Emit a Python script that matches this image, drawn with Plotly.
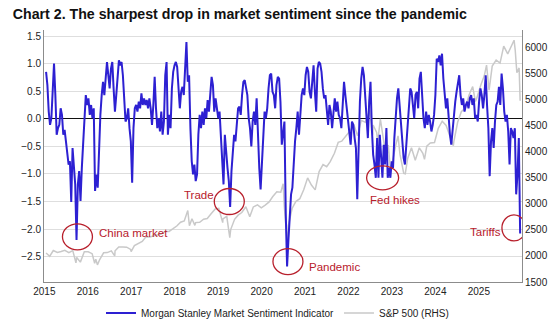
import numpy as np
import pandas as pd
import plotly.graph_objects as go

# ---------------- data ----------------
sent_start = "2015-01-01"
sent_end = "2025-04-08"
sentiment = [
    0.85,
    0.61, 0.13, -0.11, 0.01, 0.55, 1.00, 0.43, -0.29, -0.17, -0.11,
    0.19, 0.07, -0.29, -0.20, -0.41, -0.65, -0.83, -0.77, -1.51, -0.53,
    -0.83, -1.19, -2.20, -1.19, -0.95, -1.49, -0.89, -0.35, 0.01, 0.43,
    0.25, 0.37, 0.07, 0.25, 0.01, 0.19, -1.31, -1.01, -1.25, -0.35,
    0.07, 0.43, 0.67, 0.43, 0.73, 1.03, 0.79, 0.55, 0.91, 1.03,
    0.55, 0.13, 0.43, 0.85, 1.06, 0.97, 1.03, 0.79, 0.43, -0.05,
    0.01, 0.19, -0.17, -0.41, -1.16, -0.17, 0.19, 0.25, 0.13, 0.31,
    0.19, 0.46, 0.25, 0.37, 0.25, 0.34, 0.19, 0.37, 0.19, -0.11,
    0.25, 0.76, 0.19, -0.17, 0.01, -0.23, 0.13, -0.29, -0.05, 0.79,
    1.03, -0.29, 0.07, -0.17, 0.55, 0.85, 0.97, 1.03, 0.94, 0.43,
    0.19, 0.49, 0.58, 0.43, 0.91, 1.39, 0.67, 0.79, -0.17, -0.77,
    -1.01, -0.83, -1.13, -1.01, -0.29, 0.07, -0.17, 0.13, -0.11, 0.19,
    0.01, 0.34, 0.13, 0.49, 0.76, 0.61, 0.13, 0.37, 0.19, 0.01,
    0.13, -0.29, -0.65, -1.19, -0.29, -0.65, -0.89, -1.13, -1.60, -0.95,
    -0.59, -0.29, -0.41, -0.05, 0.19, 0.22, 0.07, 0.43, 0.67, 0.70,
    0.55, 0.43, 0.01, -0.17, -0.50, -0.05, 0.13, -0.11, 0.37, -0.47,
    -0.89, -1.28, -0.77, -0.17, 0.13, 0.01, 0.19, 0.55, 0.79, 0.82,
    0.49, 0.43, 0.19, 0.61, 0.76, 0.73, 0.31, -0.47, -0.29, -0.05,
    -1.72, -2.68, -2.20, -1.72, -1.37, -1.25, -0.77, -0.41, -0.17, 0.13,
    -0.29, 0.19, 0.43, 0.55, 0.43, 0.79, 0.94, 0.85, 0.49, 0.37,
    0.73, 0.97, 0.49, 0.13, 0.91, 1.03, 1.00, 0.85, 0.55, 0.37,
    0.43, 0.19, -0.11, 0.25, 0.13, -0.17, 0.19, 0.37, 0.13, 0.31,
    0.07, 0.01, -0.17, 0.31, 0.67, 0.43, 0.19, -0.05, -0.17, -0.47,
    -0.05, -0.11, -0.35, -0.53, -1.46, -0.47, 0.31, 0.73, 0.94, 0.79,
    0.43, -0.05, -0.35, 0.31, 0.67, -0.17, -0.65, -0.83, -1.07, -0.35,
    -1.07, -0.29, -0.77, -1.07, -0.47, -0.83, -0.17, -1.07, -0.89, -1.07,
    -0.77, -0.89, -0.35, 0.07, 0.37, 0.55, 0.25, -0.17, -0.47, -0.71,
    -0.83, -0.47, -0.17, 0.19, 0.55, 0.49, 0.19, 0.01, 0.43, 0.49,
    0.19, 0.73, 0.85, 0.43, 0.01, -0.17, 0.13, -0.11, 0.07, -0.05,
    -0.23, -0.11, 0.07, 0.43, 1.09, 1.03, 1.15, 0.97, 1.18, 0.73,
    0.43, 0.19, 0.37, -0.05, -0.29, -0.47, -0.17, 0.01, 0.31, 0.49,
    0.61, 0.79, 0.43, 0.25, 0.37, 0.13, 0.25, 0.31, 0.19, 0.37,
    0.43, 0.25, 0.37, 0.01, 0.07, -0.05, 0.31, 0.55, 0.43, 0.19,
    0.43, 0.79, 0.25, -0.17, -1.04, -0.41, -0.17, -0.53, -0.05, 0.25,
    0.31, 0.58, 0.25, 0.82, 0.55, 0.13, -0.05, 0.07, -0.23, -0.83,
    -0.17, -0.23, -0.35, -0.17, -1.37, -1.01, -0.35, -2.08,
]

sp_dates = [
    "2015-01-01", "2015-01-30", "2015-02-27", "2015-03-31", "2015-04-30", "2015-05-29",
    "2015-06-30", "2015-07-31", "2015-08-25", "2015-08-31", "2015-09-29", "2015-10-30",
    "2015-11-30", "2015-12-31", "2016-01-20", "2016-01-29", "2016-02-11", "2016-02-29",
    "2016-03-31", "2016-04-29", "2016-05-31", "2016-06-27", "2016-06-30", "2016-07-29",
    "2016-08-31", "2016-09-30", "2016-10-31", "2016-11-04", "2016-11-30", "2016-12-30",
    "2017-01-31", "2017-02-28", "2017-03-31", "2017-04-28", "2017-05-31", "2017-06-30",
    "2017-07-31", "2017-08-31", "2017-09-29", "2017-10-31", "2017-11-30", "2017-12-29",
    "2018-01-26", "2018-02-08", "2018-02-28", "2018-03-23", "2018-03-29", "2018-04-30",
    "2018-05-31", "2018-06-29", "2018-07-31", "2018-08-31", "2018-09-28", "2018-10-29",
    "2018-10-31", "2018-11-30", "2018-12-24", "2018-12-31", "2019-01-31", "2019-02-28",
    "2019-03-29", "2019-04-30", "2019-05-31", "2019-06-28", "2019-07-31", "2019-08-30",
    "2019-09-30", "2019-10-31", "2019-11-29", "2019-12-31", "2020-01-31", "2020-02-19",
    "2020-02-28", "2020-03-23", "2020-03-31", "2020-04-30", "2020-05-29", "2020-06-30",
    "2020-07-31", "2020-08-31", "2020-09-30", "2020-10-30", "2020-11-30", "2020-12-31",
    "2021-01-29", "2021-02-26", "2021-03-31", "2021-04-30", "2021-05-28", "2021-06-30",
    "2021-07-30", "2021-08-31", "2021-09-30", "2021-10-29", "2021-11-30", "2021-12-31",
    "2022-01-03", "2022-01-27", "2022-01-31", "2022-02-28", "2022-03-08", "2022-03-29",
    "2022-04-29", "2022-05-20", "2022-05-31", "2022-06-16", "2022-06-30", "2022-07-29",
    "2022-08-16", "2022-08-31", "2022-09-30", "2022-10-12", "2022-10-31", "2022-11-30",
    "2022-12-30", "2023-01-31", "2023-02-28", "2023-03-13", "2023-03-31", "2023-04-28",
    "2023-05-31", "2023-06-30", "2023-07-31", "2023-08-31", "2023-09-29", "2023-10-27",
    "2023-10-31", "2023-11-30", "2023-12-29", "2024-01-31", "2024-02-29", "2024-03-28",
    "2024-04-19", "2024-04-30", "2024-05-31", "2024-06-28", "2024-07-16", "2024-08-05",
    "2024-08-30", "2024-09-30", "2024-10-31", "2024-11-29", "2024-12-31", "2025-01-31",
    "2025-02-19", "2025-02-28", "2025-03-13", "2025-03-31", "2025-04-08",
]
sp500 = [
    2058, 1995, 2105, 2068, 2086, 2107,
    2063, 2104, 1868, 1972, 1882, 2079,
    2080, 2044, 1859, 1940, 1829, 1932,
    2060, 2065, 2097, 2001, 2099, 2174,
    2171, 2168, 2126, 2085, 2199, 2239,
    2279, 2364, 2363, 2384, 2412, 2423,
    2470, 2472, 2519, 2575, 2648, 2674,
    2873, 2581, 2714, 2588, 2641, 2648,
    2705, 2718, 2816, 2902, 2914, 2641,
    2712, 2760, 2351, 2507, 2704, 2784,
    2834, 2946, 2752, 2942, 2980, 2926,
    2977, 3038, 3141, 3231, 3226, 3386,
    2954, 2237, 2585, 2912, 3044, 3100,
    3271, 3500, 3363, 3270, 3622, 3756,
    3714, 3811, 3973, 4181, 4204, 4298,
    4395, 4523, 4308, 4605, 4567, 4766,
    4797, 4327, 4516, 4374, 4171, 4632,
    4132, 3901, 4132, 3667, 3785, 4130,
    4305, 3955, 3586, 3577, 3872, 4080,
    3840, 4077, 3970, 3855, 4109, 4169,
    4180, 4450, 4589, 4508, 4288, 4117,
    4194, 4568, 4770, 4846, 5096, 5254,
    4967, 5036, 5278, 5460, 5667, 5186,
    5648, 5762, 5705, 6032, 5882, 6041,
    6144, 5955, 5522, 5612, 4983,
]

year_labels = ["2015", "2016", "2017", "2018", "2019", "2020",
               "2021", "2022", "2023", "2024", "2025"]

events = ["China market", "Trade", "Pandemic", "Fed hikes", "Tariffs"]
event_dates = ["2015-09-06", "2018-12-20", "2020-03-28", "2022-04-16", "2025-02-18"]
event_levels = [-2.14, -1.50, -2.59, -1.07, -1.98]
label_dates = ["2016-02-10", "2017-12-10", "2020-08-28", "2021-12-20", "2024-02-20"]
label_levels = [-2.07, -1.39, -2.69, -1.48, -2.06]
circle_rx = [15, 15, 15, 16, 12]
circle_ry = [13, 13, 13, 12, 13]


def to_year(d):
    d = pd.Timestamp(d)
    start = pd.Timestamp(year=d.year, month=1, day=1)
    end = pd.Timestamp(year=d.year + 1, month=1, day=1)
    return d.year + (d - start) / (end - start)


sent_x = np.linspace(to_year(sent_start), to_year(sent_end), len(sentiment))
sp_x = [to_year(d) for d in sp_dates]
tick_pos = [2014.962 + 0.9409 * i for i in range(len(year_labels))]

BLUE = "#2d20d2"
RED = "#b8202c"
FONT = "Liberation Sans, Arial, sans-serif"

fig = go.Figure()
fig.add_trace(go.Scatter(
    x=sp_x, y=sp500, mode="lines", name="S&P 500 (RHS)", yaxis="y",
    line=dict(color="#c9c9c9", width=1.5), legendrank=2,
))
fig.add_trace(go.Scatter(
    x=sent_x, y=sentiment, mode="lines", name="Morgan Stanley Market Sentiment Indicator",
    yaxis="y2", line=dict(color=BLUE, width=2), legendrank=1,
))

for name, d, lv, ld, ll, rx, ry in zip(events, event_dates, event_levels,
                                       label_dates, label_levels, circle_rx, circle_ry):
    fig.add_shape(type="circle", xref="x", yref="y2",
                  xsizemode="pixel", ysizemode="pixel",
                  xanchor=to_year(d), yanchor=lv,
                  x0=-rx, x1=rx, y0=-ry, y1=ry,
                  line=dict(color=RED, width=1.3))
    fig.add_annotation(x=to_year(ld), y=ll, xref="x", yref="y2", text=name,
                       showarrow=False, xanchor="left", yanchor="middle",
                       font=dict(family=FONT, size=11.5, color=RED))

fig.update_layout(
    width=555, height=322,
    margin=dict(l=44, r=33, t=30, b=40, autoexpand=False),
    paper_bgcolor="white", plot_bgcolor="white",
    font=dict(family=FONT, size=10, color="#222"),
    title=dict(text="<b>Chart 2. The sharpest drop in market sentiment since the pandemic</b>",
               x=0.023, xref="container", xanchor="left",
               y=0.955, yref="container", yanchor="middle",
               font=dict(family=FONT, size=14.2, color="#111")),
    showlegend=True,
    legend=dict(orientation="h", x=0.5, xref="container", xanchor="center",
                y=0.028, yref="container", yanchor="middle",
                font=dict(family=FONT, size=10, color="#222"),
                bgcolor="rgba(0,0,0,0)", traceorder="normal"),
    xaxis=dict(range=[2014.955, 2025.306], tickvals=tick_pos, ticktext=year_labels,
               showgrid=False, showline=True, linecolor="#8c8c8c", linewidth=1,
               ticks="", zeroline=False, tickfont=dict(size=10), automargin=False),
    yaxis=dict(range=[1500, 6340], side="right", dtick=500, tick0=1500,
               showgrid=False, showline=True, linecolor="#8c8c8c", linewidth=1,
               zeroline=False, ticks="", tickfont=dict(size=10), automargin=False),
    yaxis2=dict(range=[-2.96, 1.61], overlaying="y", side="left", dtick=0.5, tick0=0,
                tickformat=".1f", showgrid=True, gridcolor="#dedede", gridwidth=1,
                showline=True, linecolor="#8c8c8c", linewidth=1,
                zeroline=True, zerolinecolor="#111", zerolinewidth=1.3,
                ticks="", tickfont=dict(size=10), automargin=False),
)

fig.write_html("out.html")
